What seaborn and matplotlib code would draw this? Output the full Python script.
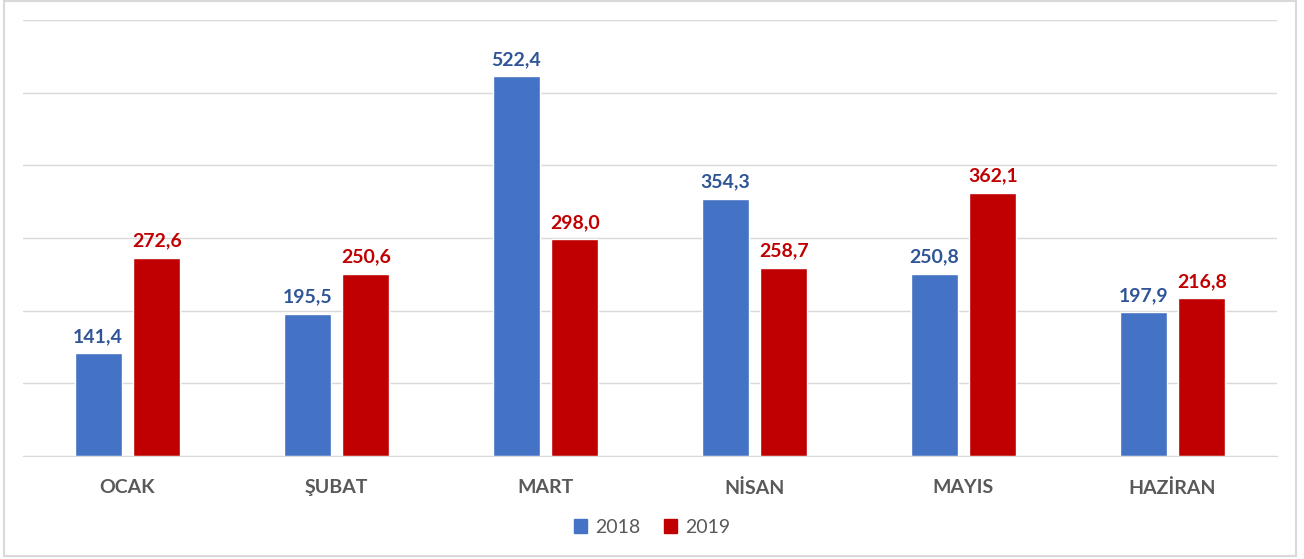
import matplotlib
matplotlib.use('Agg')
import matplotlib.pyplot as plt
import seaborn as sns
import pandas as pd
from matplotlib.patches import Rectangle

months = ['OCAK', 'ŞUBAT', 'MART', 'NİSAN', 'MAYIS', 'HAZİRAN']
vals_2018 = [141.4, 195.5, 522.4, 354.3, 250.8, 197.9]
vals_2019 = [272.6, 250.6, 298.0, 258.7, 362.1, 216.8]
years = ['2018', '2019']

df = pd.DataFrame({
	'Ay': months * 2,
	'Yil': [years[0]] * 6 + [years[1]] * 6,
	'Deger': vals_2018 + vals_2019,
})

sns.set_style('white')
plt.rcParams['font.family'] = ['Lato', 'DejaVu Sans']

fig = plt.figure(figsize=(13.04, 5.59), dpi=100)
ax = fig.add_axes([0.0176, 0.1843, 0.9617, 0.7799])
pal = {'2018': '#4472C4', '2019': '#C00000'}
sns.barplot(data=df, x='Ay', y='Deger', hue='Yil', palette=pal, width=0.56, gap=0.2,
	saturation=1, ax=ax, legend=False)

ax.set_ylim(0, 600)
ax.set_yticks(range(0, 601, 100))
ax.yaxis.grid(True, color='#D9D9D9', linewidth=1)
ax.set_axisbelow(True)
ax.tick_params(axis='y', left=False, labelleft=False)
ax.tick_params(axis='x', bottom=False, pad=13)
for lbl in ax.get_xticklabels():
	lbl.set_fontsize(14)
	lbl.set_fontweight('bold')
	lbl.set_color('#595959')
ax.set_xlabel('')
ax.set_ylabel('')
sns.despine(ax=ax, left=True, top=True, right=True)
ax.spines['bottom'].set_color('#D9D9D9')

label_colors = ['#2F5597', '#C00000']
for cont, col in zip(ax.containers, label_colors):
	ax.bar_label(cont, labels=[f'{v:.1f}'.replace('.', ',') for v in cont.datavalues],
		padding=6, fontsize=14, fontweight='bold', color=col)

handles = [Rectangle((0, 0), 1, 1, color=pal[y]) for y in years]
fig.legend(handles, years, loc='center', bbox_to_anchor=(0.5, 0.057), ncol=2, frameon=False,
	fontsize=14, handlelength=0.7, handleheight=0.7, handletextpad=0.4, columnspacing=1.2,
	labelcolor='#595959')

fig.patches.append(Rectangle((0.003, 0.006), 0.991, 0.992, transform=fig.transFigure,
	fill=False, edgecolor='#D9D9D9', linewidth=1.5))

fig.savefig('out.png', dpi=100)
